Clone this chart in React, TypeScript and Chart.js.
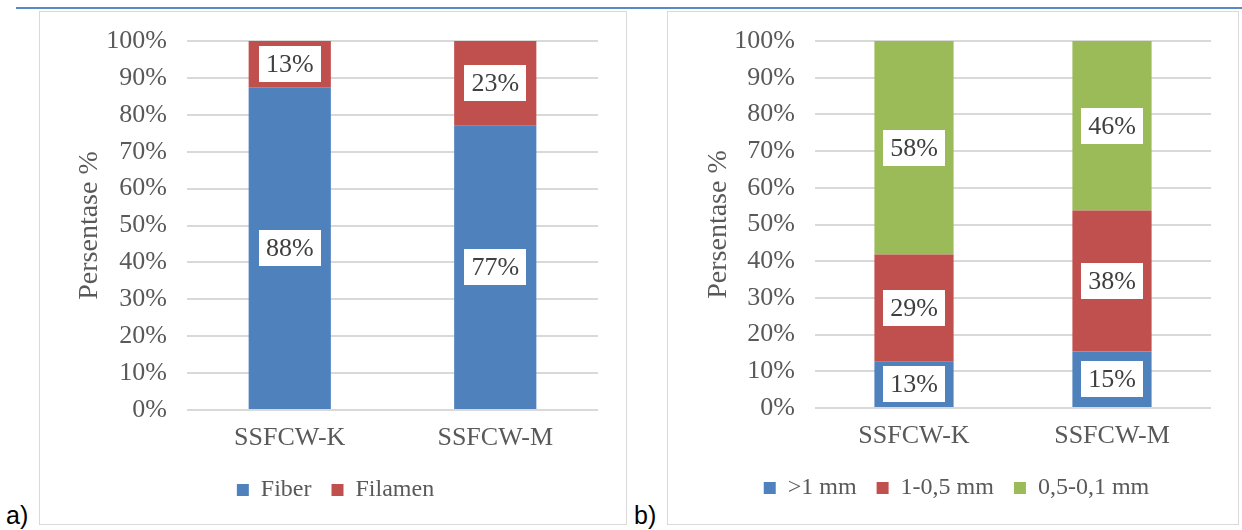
import React, { useEffect, useRef } from "react";
import { Chart, registerables } from "chart.js";

Chart.register(...registerables);

// ---------- data ----------
const categories = ["SSFCW-K", "SSFCW-M"];

// chart a)
const fiberValues = [87.5, 77];
const filamenValues = [12.5, 23];

// chart b)
const over1mmValues = [12.6, 15.4];
const mid1to05Values = [29.2, 38.4];
const fine05to01Values = [58.2, 46.2];

const yTickLabels = ["0%", "10%", "20%", "30%", "40%", "50%", "60%", "70%", "80%", "90%", "100%"];
const yTitle = "Persentase %";

const legendA = ["Fiber", "Filamen"];
const legendB = [">1 mm", "1-0,5 mm", "0,5-0,1 mm"];

// ---------- styles ----------
const FONT = "'Liberation Serif', 'Times New Roman', serif";
const BLUE = "#4f81bd";
const RED = "#c0504d";
const GREEN = "#9bbb59";
const TEXT = "#595959";
const GRID = "#d9d9d9";

const boxLabels = {
  id: "boxLabels",
  afterDatasetsDraw(chart: any) {
    const ctx = chart.ctx as CanvasRenderingContext2D;
    ctx.save();
    ctx.font = `26px ${FONT}`;
    ctx.textAlign = "center";
    ctx.textBaseline = "middle";
    chart.data.datasets.forEach((ds: any, di: number) => {
      const meta = chart.getDatasetMeta(di);
      meta.data.forEach((el: any, i: number) => {
        const v = ds.data[i] as number;
        const text = Math.round(v) + "%";
        const { x, y, base } = el.getProps(["x", "y", "base"], true);
        const cy = (y + base) / 2;
        const w = Math.round(ctx.measureText(text).width + 14);
        const h = 36;
        ctx.fillStyle = "#ffffff";
        ctx.fillRect(Math.round(x - w / 2), Math.round(cy - h / 2), w, h);
        ctx.fillStyle = "#404040";
        ctx.fillText(text, x, cy + 1);
      });
    });
    ctx.restore();
  },
};

type DS = { label: string; data: number[]; color: string };

function StackedChart(props: {
  width: number;
  height: number;
  series: DS[];
  padL: number;
  padR: number;
  padB: number;
  yWidth: number;
}) {
  const ref = useRef<HTMLCanvasElement>(null);
  useEffect(() => {
    const chart = new Chart(ref.current as HTMLCanvasElement, {
      type: "bar",
      data: {
        labels: categories,
        datasets: props.series.map((s) => ({
          label: s.label,
          data: s.data,
          backgroundColor: s.color,
          borderWidth: 0,
          barPercentage: 0.4,
          categoryPercentage: 1,
        })),
      },
      options: {
        responsive: false,
        animation: false,
        devicePixelRatio: 1,
        layout: { padding: { left: props.padL, right: props.padR, top: 29, bottom: props.padB } },
        plugins: {
          tooltip: { enabled: false },
          legend: {
            position: "bottom",
            labels: {
              boxWidth: 12,
              boxHeight: 12,
              padding: 20,
              color: TEXT,
              font: { family: FONT, size: 24 },
            },
          },
        },
        scales: {
          x: {
            stacked: true,
            grid: { display: false, drawTicks: false },
            border: { display: false },
            ticks: { padding: 13, color: TEXT, font: { family: FONT, size: 26 } },
            afterFit: (s: any) => {
              s.height = 48;
            },
          },
          y: {
            stacked: true,
            min: 0,
            max: 100,
            ticks: {
              stepSize: 10,
              padding: 6,
              color: TEXT,
              font: { family: FONT, size: 26 },
              callback: (v: any) => yTickLabels[Math.round(Number(v) / 10)],
            },
            grid: {
              color: GRID,
              lineWidth: 2,
              drawTicks: true,
              tickLength: 14,
              tickColor: "rgba(0,0,0,0)",
            },
            border: { display: false },
            title: {
              display: true,
              text: yTitle,
              color: TEXT,
              font: { family: FONT, size: 28 },
              padding: 0,
            },
            afterFit: (s: any) => {
              s.width = props.yWidth;
            },
          },
        },
      },
      plugins: [boxLabels],
    } as any);
    return () => chart.destroy();
  }, []);
  return <canvas ref={ref} width={props.width} height={props.height} style={{ display: "block" }} />;
}

const panelStyle = (left: number, width: number): React.CSSProperties => ({
  position: "absolute",
  left,
  top: 11,
  width,
  height: 514,
  border: `1px solid ${GRID}`,
  boxSizing: "border-box",
  background: "#fff",
});

const tagStyle = (left: number): React.CSSProperties => ({
  position: "absolute",
  left,
  top: 503,
  fontFamily: "'Liberation Sans', Arial, sans-serif",
  fontSize: 25,
  lineHeight: "24px",
  color: "#000",
});

export default function App() {
  const seriesA: DS[] = [
    { label: legendA[0], data: fiberValues, color: BLUE },
    { label: legendA[1], data: filamenValues, color: RED },
  ];
  const seriesB: DS[] = [
    { label: legendB[0], data: over1mmValues, color: BLUE },
    { label: legendB[1], data: mid1to05Values, color: RED },
    { label: legendB[2], data: fine05to01Values, color: GREEN },
  ];
  return (
    <div style={{ position: "fixed", left: 0, top: 0, width: 1242, height: 530, background: "#fff", overflow: "hidden" }}>
      <div style={{ position: "absolute", left: 16, top: 7, width: 1226, height: 2, background: "#5a8ac6" }} />
      <div style={panelStyle(39, 588)}>
        <StackedChart width={586} height={512} series={seriesA} padL={33} padR={28} padB={12} yWidth={114} />
      </div>
      <div style={panelStyle(667, 572)}>
        <StackedChart width={570} height={512} series={seriesB} padL={34} padR={27} padB={14} yWidth={113} />
      </div>
      <div style={tagStyle(6)}>a)</div>
      <div style={tagStyle(634)}>b)</div>
    </div>
  );
}
